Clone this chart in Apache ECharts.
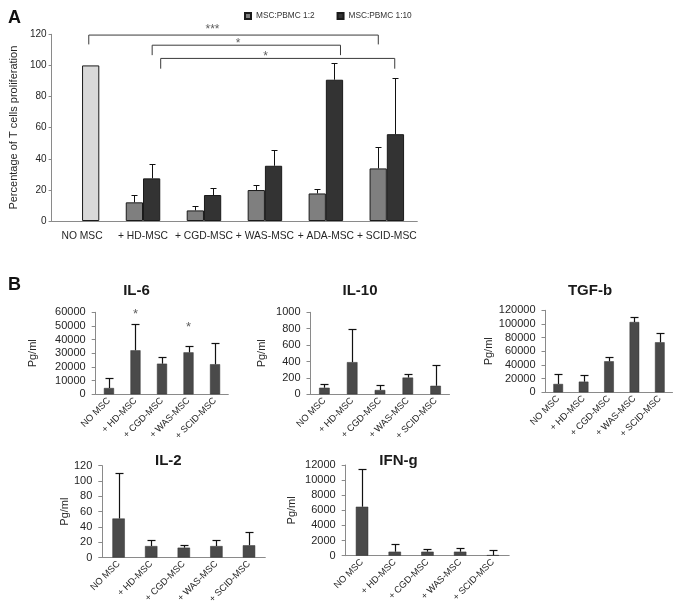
<!DOCTYPE html>
<html><head><meta charset="utf-8">
<script src="https://cdn.jsdelivr.net/npm/echarts@6/dist/echarts.min.js"></script>
<style>html,body{margin:0;padding:0;background:#fff}#c{width:675px;height:606px}</style>
</head><body><div id="c"></div>
<script>
// ---------- Panel A data ----------
const catsA = ['NO MSC', '+ HD-MSC', '+ CGD-MSC', '+ WAS-MSC', '+ ADA-MSC', '+ SCID-MSC'];
const seriesNamesA = ['MSC:PBMC 1:2', 'MSC:PBMC 1:10'];
const ratio12 = [null, 12.0, 6.8, 19.9, 17.7, 33.8];
const ratio12Err = [null, 16.7, 9.6, 22.9, 20.5, 47.6];
const ratio110 = [100, 27.4, 16.7, 35.5, 90.8, 55.8];
const ratio110Err = [null, 36.8, 21.4, 45.9, 101.7, 91.9];
// significance brackets (x in category units 0..6, y in %)
const bracketFrom = [0.61, 1.65, 1.79];
const bracketTo = [5.36, 4.74, 5.63];
const bracketTop = [119.5, 113.0, 104.5];
const bracketBottom = [113.5, 106.6, 97.9];
const bracketText = ['***', '*', '*'];
const bracketTextX = [2.64, 3.06, 3.51];
const bracketTextY = [122.8, 113.9, 105.8];

// ---------- Panel B data ----------
const cytoCats = ['NO MSC', '+ HD-MSC', '+ CGD-MSC', '+ WAS-MSC', '+ SCID-MSC'];
const il6 = [4600, 32200, 22400, 30700, 22000];
const il6Err = [12200, 51700, 27600, 35600, 37800];
const il6Stars = [null, 58500, null, 48800, null];
const il10 = [80, 392, 52, 204, 104];
const il10Err = [124, 792, 112, 252, 360];
const tgfb = [12200, 15600, 45400, 102900, 73200];
const tgfbErr = [26800, 25400, 51200, 109800, 86300];
const il2 = [51, 15, 12.9, 15, 16];
const il2Err = [110.6, 23.1, 16.3, 22.3, 33];
const ifng = [6480, 530, 530, 530, 80];
const ifngErr = [11420, 1500, 880, 970, 750];

const FONT = '"Liberation Sans", Arial, sans-serif';
const TXT = '#262626';
const AXC = '#8a8a8a';
const plain = v => String(v);

function errRender(offsetFrac, capHalf, lw) {
  return function (params, api) {
    const i = api.value(0), v = api.value(1), e = api.value(2);
    const band = api.size([1, 0])[0];
    const p0 = api.coord([i, v]);
    const p1 = api.coord([i, e]);
    const x = Math.round(p0[0] + offsetFrac * band) + 0.5;
    const y1 = Math.round(p1[1]) + 0.5;
    return {
      type: 'group',
      children: [
        { type: 'line', shape: { x1: x, y1: p0[1], x2: x, y2: y1 }, style: { stroke: '#111', lineWidth: lw } },
        { type: 'line', shape: { x1: x - capHalf, y1: y1, x2: x + capHalf, y2: y1 }, style: { stroke: '#111', lineWidth: lw } }
      ]
    };
  };
}
function errData(vals, errs) {
  const out = [];
  vals.forEach((v, i) => { if (v != null && errs[i] != null) out.push([i, v, errs[i]]); });
  return out;
}

const grids = [
  { left: 45.7, top: 34.3, width: 371.6, height: 186.7 },   // A
  { left: 95.7, top: 312.3, width: 132.6, height: 82 },     // IL-6
  { left: 310.5, top: 312.3, width: 139, height: 82 },      // IL-10
  { left: 545.5, top: 310.3, width: 127, height: 82 },      // TGF-b
  { left: 102.3, top: 465.7, width: 163, height: 93.3 },    // IL-2
  { left: 345.7, top: 465, width: 163.5, height: 90.7 }     // IFN-g
];

const cyto = [
  { title: 'IL-6', vals: il6, errs: il6Err, max: 60000, interval: 10000, nameGap: 57, tx: 131.5, ty: 278 },
  { title: 'IL-10', vals: il10, errs: il10Err, max: 1000, interval: 200, nameGap: 43, tx: 355, ty: 278 },
  { title: 'TGF-b', vals: tgfb, errs: tgfbErr, max: 120000, interval: 20000, nameGap: 48, tx: 585, ty: 278 },
  { title: 'IL-2', vals: il2, errs: il2Err, max: 120, interval: 20, nameGap: 32, tx: 163.3, ty: 448 },
  { title: 'IFN-g', vals: ifng, errs: ifngErr, max: 12000, interval: 2000, nameGap: 48, tx: 393.5, ty: 448 }
];

const xAxes = [
  {
    type: 'category', gridIndex: 0, data: catsA,
    axisLine: { lineStyle: { color: AXC } },
    axisTick: { length: 4, lineStyle: { color: AXC } },
    axisLabel: { color: TXT, fontSize: 10.3, fontFamily: FONT, margin: 10, interval: 0 }
  },
  { type: 'value', gridIndex: 0, min: 0, max: 6, show: false }
];
const yAxes = [
  {
    type: 'value', gridIndex: 0, min: 0, max: 120, interval: 20,
    name: 'Percentage of T cells proliferation', nameLocation: 'middle', nameGap: 26,
    nameTextStyle: { color: TXT, fontSize: 11, fontFamily: FONT },
    axisLine: { show: true, lineStyle: { color: AXC } },
    axisTick: { show: true, length: 3, lineStyle: { color: AXC } },
    axisLabel: { color: TXT, fontSize: 10, fontFamily: FONT, margin: 5, formatter: plain },
    splitLine: { show: false }
  }
];
const series = [
  {
    name: seriesNamesA[0], type: 'bar', xAxisIndex: 0, yAxisIndex: 0,
    data: ratio12, barGap: '0%', barCategoryGap: '43.4%',
    itemStyle: { color: '#7f7f7f', borderColor: '#1a1a1a', borderWidth: 1 }
  },
  {
    name: seriesNamesA[1], type: 'bar', xAxisIndex: 0, yAxisIndex: 0,
    data: ratio110.map((v, i) => i === 0 ? { value: v, itemStyle: { color: '#d9d9d9' } } : v),
    barGap: '0%', barCategoryGap: '43.4%',
    itemStyle: { color: '#333333', borderColor: '#1a1a1a', borderWidth: 1 }
  },
  {
    type: 'custom', xAxisIndex: 0, yAxisIndex: 0, z: 5,
    renderItem: errRender(-0.1415, 3, 1), data: errData(ratio12, ratio12Err), encode: { x: 0, y: [1, 2] }
  },
  {
    type: 'custom', xAxisIndex: 0, yAxisIndex: 0, z: 5,
    renderItem: errRender(0.1415, 3, 1), data: errData(ratio110, ratio110Err), encode: { x: 0, y: [1, 2] }
  }
];
bracketFrom.forEach((f, k) => {
  series.push({
    type: 'line', xAxisIndex: 1, yAxisIndex: 0, symbol: 'none', silent: true, z: 6,
    lineStyle: { color: '#3a3a3a', width: 1 },
    data: [[f, bracketBottom[k]], [f, bracketTop[k]], [bracketTo[k], bracketTop[k]], [bracketTo[k], bracketBottom[k]]]
  });
});
series.push({
  type: 'scatter', xAxisIndex: 1, yAxisIndex: 0, clip: false, symbolSize: 1, silent: true,
  itemStyle: { color: 'rgba(0,0,0,0)' },
  label: { show: true, position: 'inside', formatter: p => bracketText[p.dataIndex], color: '#333', fontSize: 12, fontFamily: FONT },
  data: bracketTextX.map((x, k) => [x, bracketTextY[k]])
});

const titles = [
  { text: 'A', left: 3, top: 4, textStyle: { fontSize: 18, fontWeight: 'bold', color: '#111', fontFamily: FONT } },
  { text: 'B', left: 3, top: 271, textStyle: { fontSize: 18, fontWeight: 'bold', color: '#111', fontFamily: FONT } }
];

cyto.forEach((c, k) => {
  const g = k + 1;
  const xi = xAxes.length, yi = yAxes.length;
  xAxes.push({
    type: 'category', gridIndex: g, data: cytoCats,
    axisLine: { lineStyle: { color: AXC } },
    axisTick: { length: 4, lineStyle: { color: AXC } },
    axisLabel: { color: TXT, fontSize: 9.3, fontFamily: FONT, rotate: 45, margin: 5, interval: 0 }
  });
  yAxes.push({
    type: 'value', gridIndex: g, min: 0, max: c.max, interval: c.interval,
    name: 'Pg/ml', nameLocation: 'middle', nameGap: c.nameGap,
    nameTextStyle: { color: TXT, fontSize: 11, fontFamily: FONT },
    axisLine: { show: true, lineStyle: { color: AXC } },
    axisTick: { show: true, length: 4, lineStyle: { color: AXC } },
    axisLabel: { color: TXT, fontSize: 11, fontFamily: FONT, margin: 10, formatter: plain },
    splitLine: { show: false }
  });
  series.push({
    type: 'bar', xAxisIndex: xi, yAxisIndex: yi, data: c.vals, barCategoryGap: '62%',
    itemStyle: { color: '#4a4a4a', borderColor: '#333', borderWidth: 0.5 }
  });
  series.push({
    type: 'custom', xAxisIndex: xi, yAxisIndex: yi, z: 5,
    renderItem: errRender(0, 4, 1.2), data: errData(c.vals, c.errs), encode: { x: 0, y: [1, 2] }
  });
  if (k === 0) {
    series.push({
      type: 'scatter', xAxisIndex: xi, yAxisIndex: yi, clip: false, symbolSize: 1, silent: true,
      itemStyle: { color: 'rgba(0,0,0,0)' },
      label: { show: true, position: 'inside', formatter: '*', color: '#333', fontSize: 13, fontFamily: FONT },
      data: il6Stars.map((v, i) => v == null ? null : [i, v]).filter(d => d)
    });
  }
  titles.push({
    text: c.title, left: c.tx, top: c.ty, textAlign: 'center',
    textStyle: { fontSize: 15, fontWeight: 'bold', color: '#1a1a1a', fontFamily: FONT }
  });
});

const chart = echarts.init(document.getElementById('c'), null, { renderer: 'canvas' });
chart.setOption({
  backgroundColor: '#fff',
  animation: false,
  textStyle: { fontFamily: FONT },
  title: titles,
  legend: {
    data: seriesNamesA, left: 244, top: 12, padding: 0, itemWidth: 6, itemHeight: 6, itemGap: 22,
    icon: 'rect', textStyle: { fontSize: 8.3, color: '#333', fontFamily: FONT }
  },
  grid: grids,
  xAxis: xAxes,
  yAxis: yAxes,
  series: series
});
</script>
</body></html>
